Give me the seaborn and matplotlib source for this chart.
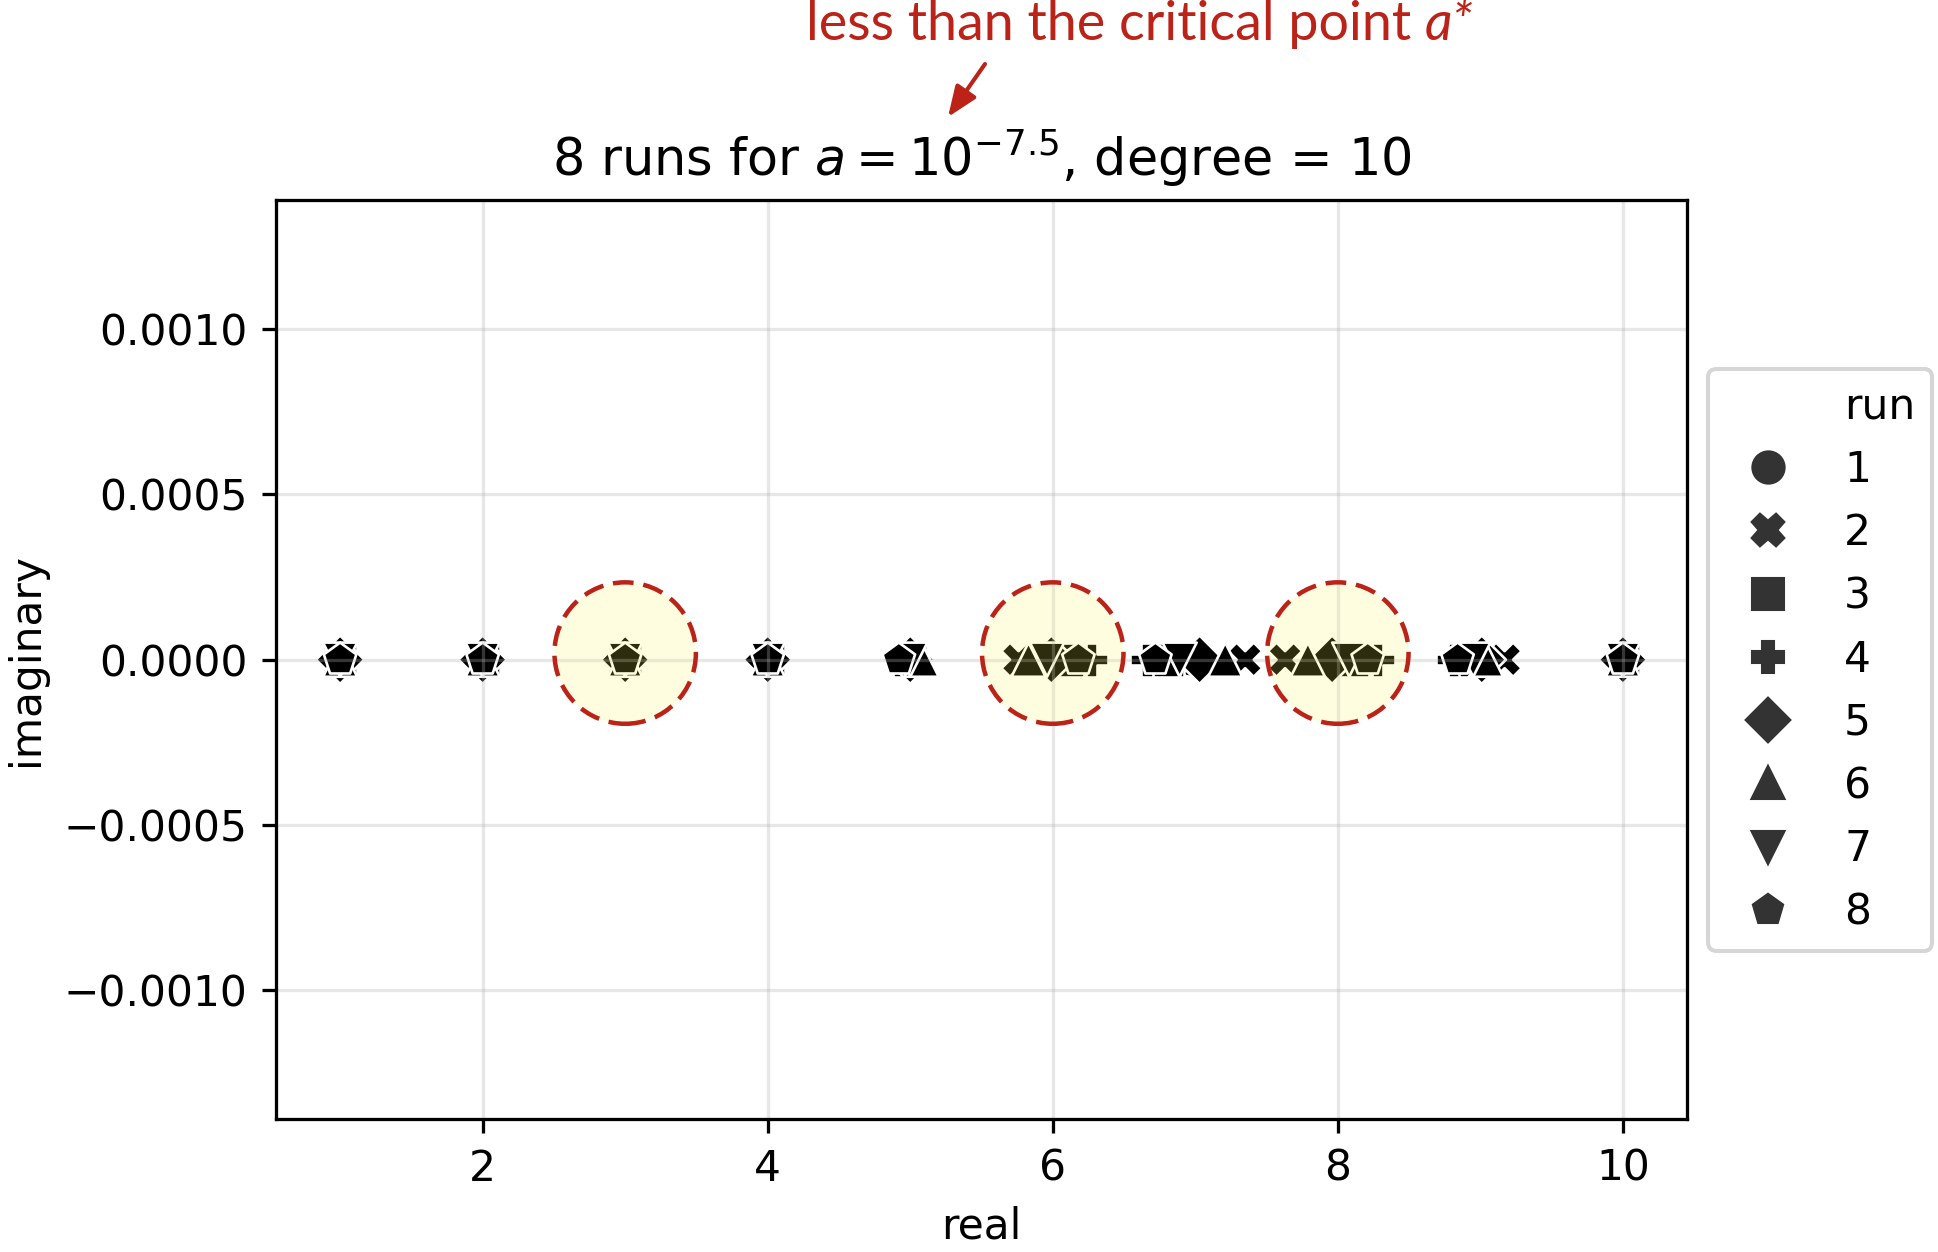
#!/usr/bin/env python3
"""Roots of a perturbed degree-10 polynomial, 8 random runs."""

import matplotlib as mpl
mpl.use("Agg")
import matplotlib.pyplot as plt
from matplotlib.lines import Line2D
import pandas as pd
import seaborn as sns

# ---- data ----------------------------------------------------------------
RUNS = [1, 2, 3, 4, 5, 6, 7, 8]
RUN_MARKERS = ["o", "X", "s", "P", "D", "^", "v", "p"]

run1_real = [1, 2, 3, 4, 5.00, 6.02, 6.97, 8.03, 8.98, 10]
run2_real = [1, 2, 3, 4, 5.00, 5.76, 7.35, 7.63, 9.17, 10]
run3_real = [1, 2, 3, 4, 5.00, 6.10, 6.80, 8.10, 8.90, 10]
run4_real = [1, 2, 3, 4, 5.00, 6.27, 6.66, 8.28, 8.81, 10]
run5_real = [1, 2, 3, 4, 5.00, 5.99, 7.03, 7.96, 9.01, 10]
run6_real = [1, 2, 3, 4, 5.08, 5.83, 7.21, 7.79, 9.04, 10]
run7_real = [1, 2, 3, 4, 5.00, 5.96, 6.89, 8.08, 8.95, 10]
run8_real = [1, 2, 3, 4, 4.92, 6.18, 6.72, 8.21, 8.84, 10]
all_real = [run1_real, run2_real, run3_real, run4_real,
            run5_real, run6_real, run7_real, run8_real]
# every root stays on the real axis
imag_part = [0.0] * 10

# roots highlighted in the annotation
highlight_real = [3, 6, 8]
highlight_imag = [0.00002, 0.00002, 0.00002]

RED = "#bb2218"
DPI = 294


def main() -> None:
    mpl.rcParams.update({"font.size": 10.4})

    rows = []
    for run, reals in zip(RUNS, all_real):
        for re_, im_ in zip(reals, imag_part):
            rows.append({"real": re_, "imaginary": im_, "run": run})
    df = pd.DataFrame(rows)

    fig = plt.figure(figsize=(1938 / DPI, 1252 / DPI), dpi=DPI)
    ax = fig.add_axes([0.1424, 0.1062, 0.8705 - 0.1424, 0.840 - 0.1062])

    sns.scatterplot(data=df, x="real", y="imaginary", style="run",
                    markers=RUN_MARKERS, color="k", s=70,
                    edgecolor="w", linewidth=0.65, legend=False, ax=ax)

    ax.set_ylim(-0.00139, 0.00139)
    ax.grid(True, alpha=0.3)
    ax.set_title(r"8 runs for $a = 10^{-7.5}$, degree = 10")
    ax.set_xlabel("real")
    ax.set_ylabel("imaginary")

    # legend in the old seaborn layout: variable name as a blank entry
    handles = [Line2D([], [], linestyle="", marker="")]
    labels = ["run"]
    for run, m in zip(RUNS, RUN_MARKERS):
        handles.append(Line2D([], [], linestyle="", marker=m, color=".2",
                              markersize=7.4))
        labels.append(str(run))
    ax.legend(handles, labels, loc="center left", bbox_to_anchor=(1, 0.5))

    # highlighted roots
    ax.scatter(highlight_real, highlight_imag, s=1200, marker="o",
               facecolor=(0.98, 0.96, 0.34, 0.18), edgecolor=RED,
               linewidth=1.1, linestyle=(0, (4.6, 2.2)), zorder=3)

    # note above the title
    t1 = fig.text(806, 1252 - 40, "less than the critical point ",
                  transform=None, color=RED, fontsize=13.2,
                  family=["Lato", "DejaVu Sans"], va="baseline", ha="left")
    fig.canvas.draw()
    bb = t1.get_window_extent()
    fig.text(bb.x1, 1252 - 40, "a*", transform=None, color=RED,
             fontsize=13.2, family=["Lato", "DejaVu Sans"],
             style="italic", va="baseline", ha="left")
    ax.annotate("", xy=(948, 1252 - 117), xycoords="figure pixels",
                xytext=(985, 1252 - 64), textcoords="figure pixels",
                arrowprops=dict(arrowstyle="-|>,head_length=0.45,head_width=0.18",
                                color=RED, lw=1.0, mutation_scale=14,
                                shrinkA=0, shrinkB=0))

    fig.savefig("out.png", dpi=DPI, facecolor="white")
    plt.close(fig)


if __name__ == "__main__":
    main()
